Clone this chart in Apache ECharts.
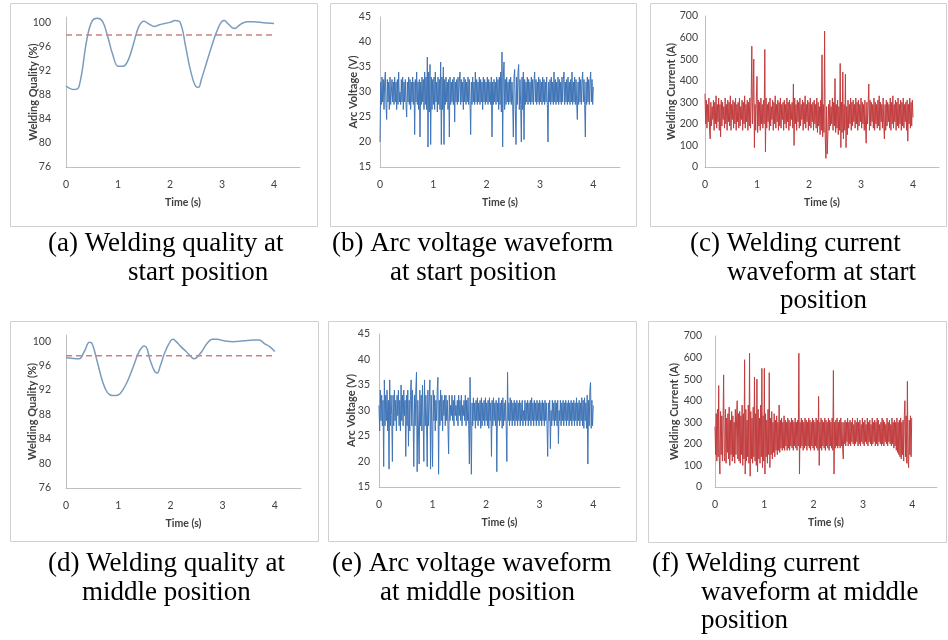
<!DOCTYPE html>
<html lang="en">
  <head>
    <meta charset="UTF-8" />
    <title>Welding quality and waveforms</title>
    <script src="https://cdn.jsdelivr.net/npm/echarts@6/dist/echarts.min.js"></script>
    <style>
      body { margin: 0; background: #fff; }
      #chart { width: 948px; height: 640px; }
    </style>
  </head>
  <body>
    <div id="chart"></div>
    <script>
      // welding quality curves (time in s, quality in %)
      const qualityStartT = [0, 0.15, 0.25, 0.4, 0.5, 0.6, 0.7, 0.8, 0.9, 1.0, 1.1, 1.2, 1.3, 1.4, 1.5, 1.6, 1.7, 1.8, 2.0, 2.1, 2.2, 2.3, 2.4, 2.5, 2.55, 2.6, 2.7, 2.8, 2.9, 3.0, 3.05, 3.1, 3.2, 3.25, 3.3, 3.4, 3.5, 3.6, 3.8, 4.0]
      const qualityStart = [89.5, 88.9, 89.4, 97.2, 100.3, 100.8, 100.3, 97.8, 94.7, 92.8, 92.8, 93.9, 96.6, 99.4, 100.3, 99.8, 99.4, 99.7, 100.1, 100.4, 100, 96.1, 91.9, 89.4, 89.3, 90.5, 93.3, 96.1, 98.6, 100.3, 100.4, 100, 99.2, 99.1, 99.4, 100, 100.2, 100.2, 100.05, 99.9]
      const qualityMiddleT = [0, 0.1, 0.25, 0.35, 0.45, 0.5, 0.6, 0.7, 0.8, 0.9, 1.0, 1.1, 1.2, 1.3, 1.4, 1.5, 1.55, 1.6, 1.7, 1.75, 1.8, 1.9, 2.0, 2.05, 2.1, 2.2, 2.3, 2.4, 2.45, 2.5, 2.6, 2.7, 2.8, 2.9, 3.0, 3.2, 3.4, 3.6, 3.7, 3.8, 3.9, 4.0]
      const qualityMiddle = [97.3, 97.2, 97.1, 98.3, 99.8, 99.6, 96.6, 93.4, 91.5, 91.1, 91.2, 92.2, 93.9, 96.1, 98.3, 99.2, 98.8, 97.2, 95, 94.8, 95.8, 98.3, 100, 100.3, 100, 99.1, 98.3, 97.4, 97.1, 97.3, 98.3, 99.6, 100.3, 100.3, 100.1, 99.9, 100.05, 100.2, 100.2, 99.6, 99.1, 98.3]
      const thresholdStart = 98
      const thresholdMiddle = 97.6

      // sampled waveforms, one sample every 0.0125 s from 0 to 4 s
      const sampleStep = 0.0125
      const voltageStart = [
        20, 32, 27.5, 33, 28, 32.5, 26.5, 32, 34, 27.5,
        24.5, 32.5, 28, 32, 26.5, 33, 27.5, 30, 32.5, 28,
        32, 27.5, 33, 28, 32, 26.5, 32.5, 27.5, 34, 28,
        30, 27.5, 32.5, 28, 33, 26.5, 32, 28, 32.5, 27.5,
        25, 32, 28, 33, 27.5, 32.5, 26.5, 32, 28, 33,
        27.5, 32, 21.5, 32.5, 28, 34, 27.5, 32, 26.5, 32.5,
        21, 32, 27.5, 33, 28, 32.5, 26.5, 34, 27.5, 33,
        26.5, 37, 19, 34, 26, 35.5, 19.5, 33, 26.5, 32.5,
        27.5, 33, 26.5, 34, 28, 32, 26, 33, 27.5, 32.5,
        26.5, 36, 19.5, 33, 26.5, 35, 19.5, 32.5, 27.5, 33,
        28, 32, 26.5, 32.5, 21, 33, 27.5, 32, 28, 32.5,
        27.5, 33, 24, 32, 28, 32.5, 27.5, 33, 28, 32,
        34, 27.5, 32.5, 28, 32, 26.5, 33, 28, 32.5, 27.5,
        32, 28, 33, 27.5, 32.5, 28, 21.5, 32, 27.5, 33,
        28, 32, 27.5, 34, 28, 32.5, 27.5, 32, 28, 33,
        27.5, 32.5, 28, 32, 26.5, 33, 28, 32.5, 27.5, 32,
        28, 33, 27.5, 32.5, 28, 32, 27.5, 33, 21, 32,
        27.5, 32.5, 28, 32, 27.5, 33, 28, 32.5, 26.5, 33,
        27.5, 34, 26, 38, 19, 33, 36, 26.5, 32.5, 27.5,
        33, 28, 32, 27.5, 32.5, 28, 33, 27.5, 32, 28,
        21, 33, 34.5, 26.5, 19.5, 33, 27.5, 34, 35.5, 26.5,
        32.5, 27.5, 20, 33, 26.5, 34, 20.5, 32.5, 27.5, 32,
        28, 33, 27.5, 32.5, 28, 32, 27.5, 33, 28, 32.5,
        27.5, 32, 34, 28, 32.5, 27.5, 32, 28, 33, 27.5,
        32.5, 28, 32, 27.5, 33, 28, 32.5, 27.5, 32, 28,
        33, 27.5, 20, 32, 28, 32.5, 27.5, 33, 28, 32,
        27.5, 34, 28, 32.5, 27.5, 32, 28, 33, 27.5, 32.5,
        28, 32, 27.5, 33, 28, 32.5, 34, 27.5, 32, 28,
        32.5, 27.5, 33, 28, 32, 27.5, 32.5, 28, 34, 27.5,
        32, 28, 33, 27.5, 32.5, 28, 24.5, 32, 27.5, 33,
        28, 32.5, 27.5, 32, 34, 28, 32.5, 27.5, 21, 32,
        27.5, 33, 28, 32.5, 27.5, 32, 34, 28, 32.5, 27.5,
        31
      ]
      const voltageMiddle = [
        31, 26, 34, 28, 33, 27, 32, 19, 36, 27,
        33, 28, 34, 26, 32, 18.5, 36, 27, 33, 29,
        20, 33, 27, 34, 28, 32, 26, 33, 29, 34,
        27, 32, 26, 35, 28, 33, 27, 34, 29, 32,
        21, 33, 27, 34, 23, 32, 26, 33, 36, 27,
        34, 28, 19, 33, 27, 34, 37.5, 18, 32, 26,
        19.5, 34, 27, 33, 26, 35, 28, 20, 36, 27,
        33, 28, 19, 34, 27, 32, 36, 18.5, 33, 27,
        19, 34, 28, 33, 26, 32, 28, 34, 36.5, 17.5,
        32, 27, 34, 28, 33, 26, 32, 29, 33, 27,
        33, 28, 32, 27, 21.5, 33, 28, 31, 29, 33,
        28, 32, 27, 33, 29, 31, 28, 32, 27, 33,
        29, 32, 28, 33, 27, 31, 29, 32, 28, 33,
        27, 32, 28, 32.5, 27, 19.5, 36.5, 27, 17.5, 31.5,
        27, 32.5, 28, 31.5, 26.5, 32, 28, 32.5, 27, 31.5,
        28, 32, 26.5, 32.5, 27, 31.5, 28, 32, 27, 32.5,
        28, 31.5, 27, 32, 26.5, 32.5, 28, 31.5, 21, 32,
        27, 32.5, 28, 31.5, 27, 32, 18, 31.5, 28, 32.5,
        27, 31.5, 28, 32, 26.5, 32.5, 27, 31.5, 28, 32,
        27, 20, 37.5, 28, 31.5, 27, 32.5, 28, 32, 27,
        31.5, 28, 32, 27, 31.5, 28, 32, 27, 31.5, 28,
        32, 27, 31.5, 28, 32, 27, 30, 28, 32, 27,
        31.5, 28, 32, 27, 31.5, 28, 32, 27, 32.5, 28,
        31.5, 27, 32, 28, 31.5, 27, 32, 28, 31.5, 27,
        32, 28, 31.5, 27, 32, 28, 31.5, 27, 32, 28,
        31.5, 27, 21, 31.5, 28, 32, 22.5, 30, 27, 32,
        28, 31.5, 27, 32, 28, 31.5, 27, 32, 23.5, 30,
        28, 32, 27, 31.5, 28, 32, 27, 31.5, 28, 32,
        27, 31.5, 28, 32, 27, 31.5, 28, 32, 27, 31.5,
        28, 32, 27, 31.5, 28, 32.5, 27, 31.5, 28, 32,
        27, 31.5, 28, 32.5, 27, 32, 26.5, 32.5, 28, 31.5,
        26.5, 33, 19.5, 32, 27, 34, 35.5, 26.5, 32, 27,
        31
      ]
      const currentStart = [
        340, 200, 310, 180, 290, 210, 320, 170, 130, 300,
        190, 280, 220, 310, 170, 300, 200, 330, 180, 290,
        210, 320, 170, 290, 140, 310, 190, 300, 220, 280,
        180, 320, 200, 290, 170, 310, 210, 300, 190, 330,
        170, 290, 220, 310, 180, 300, 200, 320, 170, 290,
        210, 300, 180, 320, 190, 280, 220, 310, 170, 300,
        200, 330, 180, 290, 210, 310, 170, 300, 190, 320,
        180, 300, 560, 200, 310, 500, 90, 290, 170, 320,
        420, 160, 310, 190, 300, 170, 320, 200, 290, 180,
        310, 200, 545, 70, 320, 180, 290, 210, 300, 170,
        320, 190, 280, 220, 310, 170, 300, 200, 330, 180,
        290, 210, 310, 170, 300, 190, 320, 180, 290, 220,
        300, 170, 310, 200, 290, 180, 320, 210, 300, 170,
        310, 190, 290, 220, 300, 180, 385, 100, 320, 200,
        290, 170, 310, 210, 300, 180, 320, 190, 290, 220,
        310, 170, 300, 200, 330, 180, 290, 210, 310, 170,
        300, 190, 320, 180, 290, 210, 300, 170, 310, 200,
        290, 180, 320, 160, 300, 190, 280, 150, 310, 170,
        520, 140, 290, 160, 630, 130, 40, 280, 60, 150,
        290, 170, 310, 190, 280, 200, 320, 170, 300, 190,
        410, 160, 290, 180, 310, 150, 280, 170, 480, 90,
        300, 160, 440, 130, 290, 170, 430, 90, 280, 150,
        310, 180, 290, 200, 320, 170, 300, 190, 310, 210,
        290, 180, 320, 200, 300, 170, 310, 190, 290, 210,
        320, 180, 300, 200, 290, 170, 310, 190, 110, 300,
        200, 290, 385, 170, 310, 190, 300, 210, 290, 180,
        320, 170, 300, 200, 290, 180, 310, 190, 330, 170,
        300, 210, 290, 180, 320, 200, 130, 290, 170, 310,
        190, 300, 210, 290, 180, 320, 170, 300, 200, 330,
        180, 290, 210, 310, 170, 300, 190, 320, 180, 290,
        200, 310, 170, 300, 190, 320, 180, 290, 210, 300,
        170, 310, 120, 290, 200, 320, 180, 300, 190, 310,
        230
      ]
      const currentMiddle = [
        280, 150, 340, 120, 360, 140, 470, 130, 60, 350,
        150, 330, 120, 300, 520, 140, 120, 360, 110, 320,
        160, 340, 130, 370, 100, 310, 150, 350, 120, 330,
        140, 300, 110, 360, 150, 320, 400, 130, 340, 120,
        350, 110, 330, 150, 380, 100, 340, 130, 590, 60,
        360, 120, 310, 140, 380, 110, 620, 50, 350, 130,
        320, 110, 370, 140, 510, 120, 340, 100, 500, 70,
        360, 130, 320, 110, 380, 140, 550, 90, 330, 120,
        550, 60, 340, 140, 310, 110, 360, 150, 530, 90,
        320, 150, 350, 130, 300, 160, 340, 140, 310, 170,
        330, 150, 300, 170, 380, 160, 310, 180, 320, 170,
        300, 180, 330, 170, 310, 190, 300, 170, 320, 180,
        310, 170, 300, 190, 320, 180, 310, 170, 300, 190,
        320, 180, 300, 170, 310, 190, 620, 60, 300, 180,
        320, 190, 310, 170, 300, 180, 320, 190, 310, 170,
        300, 190, 320, 180, 310, 170, 300, 190, 320, 180,
        310, 170, 300, 190, 320, 180, 310, 170, 420, 100,
        300, 180, 320, 170, 310, 190, 300, 180, 320, 170,
        310, 190, 300, 180, 320, 170, 310, 190, 300, 180,
        320, 170, 540, 60, 300, 180, 310, 190, 320, 180,
        300, 190, 310, 180, 320, 190, 300, 180, 130, 300,
        200, 310, 190, 300, 210, 320, 190, 300, 200, 310,
        190, 300, 210, 320, 200, 290, 190, 310, 200, 300,
        210, 320, 190, 300, 200, 310, 190, 290, 210, 320,
        200, 300, 190, 310, 210, 290, 200, 320, 190, 300,
        210, 310, 200, 290, 190, 320, 200, 300, 210, 310,
        190, 300, 200, 320, 190, 310, 210, 290, 200, 300,
        190, 320, 200, 310, 190, 300, 210, 290, 200, 320,
        190, 300, 210, 310, 200, 290, 190, 320, 200, 300,
        180, 310, 190, 300, 170, 320, 160, 300, 150, 310,
        140, 320, 130, 300, 150, 310, 120, 330, 400, 140,
        330, 110, 490, 120, 90, 310, 150, 330, 140, 320,
        320
      ]

      const captions = [
        ['(a) Welding quality at', 'start position'],
        ['(b) Arc voltage waveform', 'at start position'],
        ['(c) Welding current', 'waveform at start', 'position'],
        ['(d) Welding quality at', 'middle position'],
        ['(e) Arc voltage waveform', 'at middle position'],
        ['(f) Welding current', 'waveform at middle', 'position']
      ]

      const chart = echarts.init(document.getElementById('chart'))

      const labelFont = 'Lato'
      const axisGrey = '#bfbfbf'
      const textGrey = '#404040'

      // panel frames and plot areas: [left, top, width, height]
      const frames = [
        [10, 3, 307, 223], [330, 3, 306, 223], [650, 3, 296, 223],
        [10, 321, 308, 220], [328, 321, 308, 220], [648, 321, 298, 221]
      ]
      const grids = [
        [66, 17, 234, 150], [380, 17, 240, 150], [705, 16, 234, 151],
        [66, 335, 235, 153], [379, 334, 241, 153], [715, 336, 222, 151]
      ]
      const yRanges = [[76, 101, 4], [15, 45, 5], [0, 700, 100], [76, 101, 4], [15, 45, 5], [0, 700, 100]]
      const yNames = ['Welding Quality (%)', 'Arc Voltage (V)', 'Welding Current (A)',
        'Welding Quality (%)', 'Arc Voltage (V)', 'Welding Current (A)']
      const yNameGaps = [27.5, 21.5, 28.5, 28.5, 22.5, 35.5]
      const yLabelMargins = [15, 9, 7, 15, 9, 13]

      const toPairs = (ts, vs) => vs.map((v, i) => [ts[i], v])
      const sampled = (vs) => vs.map((v, i) => [i * sampleStep, v])

      const option = {
        backgroundColor: '#fff',
        animation: false,
        grid: grids.map(g => ({ left: g[0], top: g[1], width: g[2], height: g[3], outerBoundsMode: 'none' })),
        xAxis: grids.map((g, i) => ({
          type: 'value', gridIndex: i, min: 0, max: 4.5, interval: 1,
          name: 'Time (s)', nameLocation: 'middle', nameGap: 30, nameMoveOverlap: false,
          nameTextStyle: { fontFamily: labelFont, fontWeight: 'bold', fontSize: 10.5, color: textGrey },
          axisLine: { lineStyle: { color: axisGrey } },
          axisTick: { show: false },
          splitLine: { show: false },
          axisLabel: { showMaxLabel: false, margin: 12, fontFamily: labelFont, fontSize: 10.5, color: textGrey }
        })),
        yAxis: grids.map((g, i) => ({
          type: 'value', gridIndex: i, min: yRanges[i][0], max: yRanges[i][1], interval: yRanges[i][2],
          name: yNames[i], nameLocation: 'middle', nameGap: yNameGaps[i], nameMoveOverlap: false,
          nameTextStyle: { fontFamily: labelFont, fontWeight: 'bold', fontSize: 11, color: textGrey },
          axisLine: { show: true, lineStyle: { color: axisGrey } },
          axisTick: { show: false },
          splitLine: { show: false },
          axisLabel: { showMaxLabel: yRanges[i][2] !== 4, margin: yLabelMargins[i], fontFamily: labelFont, fontSize: 10.5, color: textGrey }
        })),
        series: [
          { type: 'line', xAxisIndex: 0, yAxisIndex: 0, data: toPairs(qualityStartT, qualityStart), smooth: 0.4, symbol: 'none', lineStyle: { color: '#7c9cbd', width: 1.5 } },
          { type: 'line', xAxisIndex: 0, yAxisIndex: 0, data: [[0, thresholdStart], [4, thresholdStart]], symbol: 'none', lineStyle: { color: '#c98383', width: 1.5, type: [6, 4] } },
          { type: 'line', xAxisIndex: 1, yAxisIndex: 1, data: sampled(voltageStart), symbol: 'none', lineStyle: { color: '#3f74b6', width: 1 } },
          { type: 'line', xAxisIndex: 2, yAxisIndex: 2, data: sampled(currentStart), symbol: 'none', lineStyle: { color: '#c23d3f', width: 1 } },
          { type: 'line', xAxisIndex: 3, yAxisIndex: 3, data: toPairs(qualityMiddleT, qualityMiddle), smooth: 0.4, symbol: 'none', lineStyle: { color: '#7c9cbd', width: 1.5 } },
          { type: 'line', xAxisIndex: 3, yAxisIndex: 3, data: [[0, thresholdMiddle], [4, thresholdMiddle]], symbol: 'none', lineStyle: { color: '#c98383', width: 1.5, type: [6, 4] } },
          { type: 'line', xAxisIndex: 4, yAxisIndex: 4, data: sampled(voltageMiddle), symbol: 'none', lineStyle: { color: '#3f74b6', width: 1 } },
          { type: 'line', xAxisIndex: 5, yAxisIndex: 5, data: sampled(currentMiddle), symbol: 'none', lineStyle: { color: '#c23d3f', width: 1 } }
        ],
        graphic: []
      }

      // panel borders
      frames.forEach(f => {
        option.graphic.push({
          type: 'rect', shape: { x: f[0] + 0.5, y: f[1] + 0.5, width: f[2], height: f[3] },
          style: { fill: null, stroke: '#d0d0d0', lineWidth: 1 }, z: -1
        })
      })

      // captions: left x of each line, baseline of first line
      const captionX = [[48, 128], [332, 390], [690, 727, 780], [48, 82], [332, 380], [652, 701, 701]]
      const captionTop = [253, 253, 253, 573, 573, 573]
      captions.forEach((lines, p) => {
        lines.forEach((txt, k) => {
          option.graphic.push({
            type: 'text', x: captionX[p][k], y: captionTop[p] + k * 28.5 - 9,
            style: { text: txt, font: '27px "Liberation Serif"', fill: '#000', verticalAlign: 'middle', align: 'left' }
          })
        })
      })

      chart.setOption(option)
    </script>
  </body>
</html>
